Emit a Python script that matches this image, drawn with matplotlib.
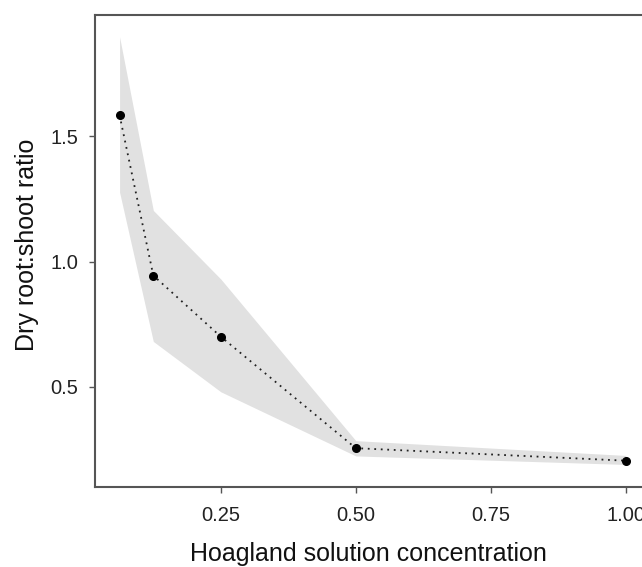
import matplotlib
matplotlib.use("Agg")
import matplotlib.pyplot as plt

plt.rcParams['font.family'] = ['Liberation Sans', 'DejaVu Sans']

concentration = [0.0625, 0.125, 0.25, 0.5, 1.0]
ratio = [1.584, 0.944, 0.70, 0.255, 0.205]
ci_upper = [1.897, 1.204, 0.93, 0.285, 0.226]
ci_lower = [1.277, 0.681, 0.48, 0.224, 0.19]
xticks = [0.25, 0.50, 0.75, 1.00]
xtick_labels = ["0.25", "0.50", "0.75", "1.00"]
yticks = [0.5, 1.0, 1.5]
ytick_labels = ["0.5", "1.0", "1.5"]

fig = plt.figure(figsize=(6.42, 5.67), dpi=100)
ax = fig.add_axes([95/642, 80/567, 1 - 95/642, (487-15)/567])

ax.fill_between(concentration, ci_lower, ci_upper, color='#e1e1e1', linewidth=0, zorder=1)
ax.plot(concentration, ratio, linestyle=(0, (1, 2.6)), color='#222222', linewidth=1.3, zorder=2)
ax.plot(concentration, ratio, linestyle='none', marker='o', markersize=5.5,
        color='black', zorder=3)

ax.set_xlim(0.017, 1.03)
ax.set_ylim(0.1, 1.984)
ax.set_xticks(xticks)
ax.set_xticklabels(xtick_labels)
ax.set_yticks(yticks)
ax.set_yticklabels(ytick_labels)

for s in ['left', 'bottom', 'top', 'right']:
    ax.spines[s].set_color('#555555')
    ax.spines[s].set_linewidth(1.5)
ax.spines['right'].set_visible(False)

ax.tick_params(direction='out', length=4, width=1, color='#555555',
               labelsize=14.5, labelcolor='#222222', pad=10)
ax.tick_params(axis='y', pad=8)

ax.set_xlabel('Hoagland solution concentration', fontsize=18, color='#111111', labelpad=12)
ax.set_ylabel('Dry root:shoot ratio', fontsize=18, color='#111111')
ax.yaxis.set_label_coords(-0.102, 0.513)

fig.savefig('out.png', dpi=100)
